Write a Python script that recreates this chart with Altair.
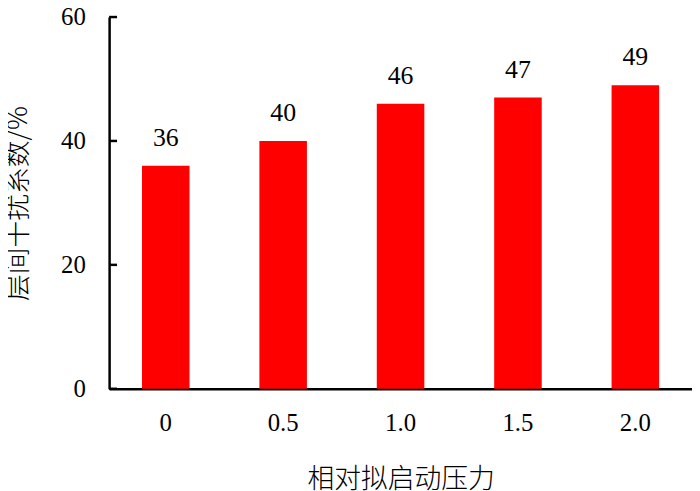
import altair as alt
import pandas as pd

categories = ["0", "0.5", "1.0", "1.5", "2.0"]
values = [36, 40, 46, 47, 49]
y_ticks = [0, 20, 40, 60]

df = pd.DataFrame({"cat": categories, "val": values})
tick_df = pd.DataFrame({"t": y_ticks})

SERIF = "'Liberation Serif', 'Times New Roman', Times, serif"
CJK = "'Noto Sans CJK SC', sans-serif"

x_enc = alt.X(
    "cat:N",
    sort=categories,
    scale=alt.Scale(paddingInner=0.595, paddingOuter=0.28),
    axis=alt.Axis(
        title="相对拟启动压力",
        labelAngle=0,
        ticks=False,
        labelPadding=22,
        titlePadding=32,
        domainWidth=2.5,
    ),
)
y_scale = alt.Scale(domain=[0, 60], nice=False)
y_enc = alt.Y(
    "val:Q",
    scale=y_scale,
    axis=alt.Axis(
        title="层间干扰系数/%",
        values=y_ticks,
        ticks=False,
        labelPadding=24,
        titlePadding=28,
        grid=False,
        domainWidth=2.5,
    ),
)

bars = alt.Chart(df).mark_bar(color="#FF0000").encode(x=x_enc, y=y_enc)
labels = alt.Chart(df).mark_text(
    baseline="bottom", dy=-15, font=SERIF, fontSize=26, color="black"
).encode(x=alt.X("cat:N", sort=categories), y=alt.Y("val:Q"), text="val:Q")
ticks = alt.Chart(tick_df).mark_rule(color="black", strokeWidth=2.5).encode(
    y=alt.Y("t:Q", scale=y_scale), x=alt.value(0), x2=alt.value(8)
)

chart = (
    alt.layer(bars, labels, ticks)
    .properties(
        width=588,
        height=375,
        autosize=alt.AutoSizeParams(type="none"),
        padding={"left": 102, "top": 7, "right": 0, "bottom": 101},
    )
    .configure_view(stroke=None)
    .configure_axis(
        labelFont=SERIF,
        labelFontSize=25,
        labelColor="black",
        domainColor="black",
        titleFont=CJK,
        titleFontSize=27,
        titleFontWeight=300,
        titleColor="black",
    )
)

chart.save("out.html", embed_options={"renderer": "svg", "actions": False})
